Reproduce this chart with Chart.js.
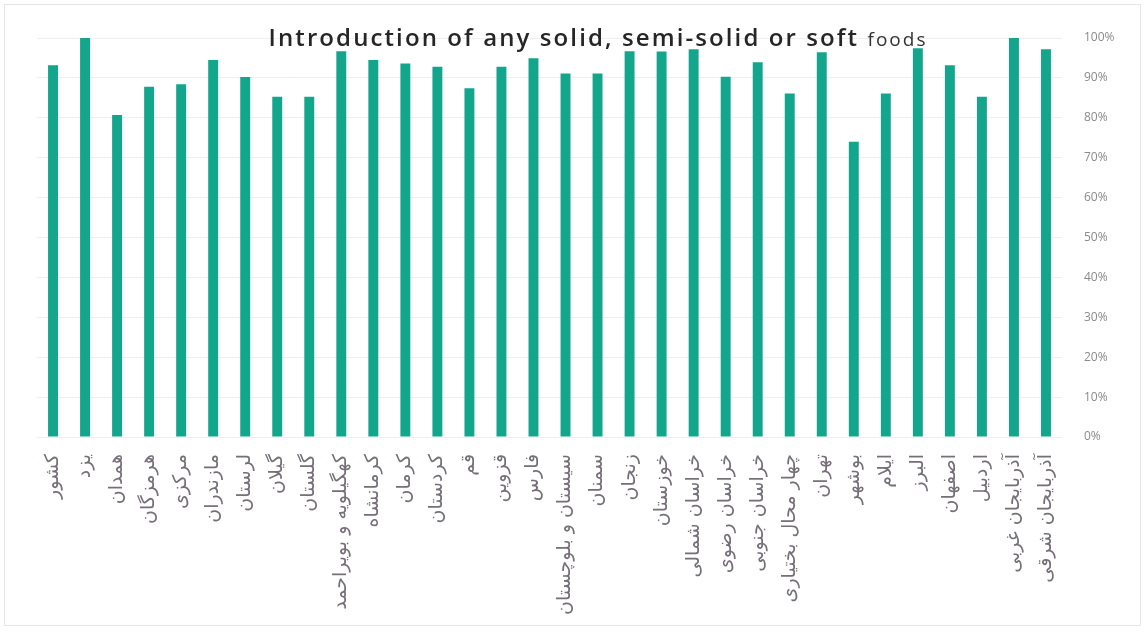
<!DOCTYPE html>
<html>
<head>
<meta charset="utf-8">
<script src="https://cdn.jsdelivr.net/npm/chart.js@4"></script>
<style>
  html, body { margin: 0; padding: 0; background: #fff; }
  #wrap { position: relative; width: 1147px; height: 640px; }
  #wrap::after {
    content: ''; position: absolute; left: 4px; top: 4px; right: 6px; bottom: 14px;
    border: 1px solid #e6e6e6; pointer-events: none;
  }
</style>
</head>
<body>
<div id="wrap"><canvas id="chart" width="1147" height="640"></canvas></div>
<script>
// provinces (plus the national figure first)
const provinces = [
  'کشور', 'یزد', 'همدان', 'هرمزگان', 'مرکزی', 'مازندران', 'لرستان', 'گیلان',
  'گلستان', 'کهگیلویه و بویراحمد', 'کرمانشاه', 'کرمان', 'کردستان', 'قم', 'قزوین', 'فارس',
  'سیستان و بلوچستان', 'سمنان', 'زنجان', 'خوزستان', 'خراسان شمالی', 'خراسان رضوی', 'خراسان جنوبی', 'چهار محال بختیاری',
  'تهران', 'بوشهر', 'ایلام', 'البرز', 'اصفهان', 'اردبیل', 'آذربایجان غربی', 'آذربایجان شرقی'
];

// share of children introduced to solid / semi-solid / soft foods (%)
const introducedPct = [
  93.2, 100, 80.7, 87.8, 88.4, 94.5, 90.2, 85.3,
  85.3, 96.7, 94.5, 93.6, 92.8, 87.4, 92.8, 94.9,
  91.1, 91.1, 96.7, 96.6, 97.2, 90.3, 93.9, 86.1,
  96.4, 74.0, 86.1, 97.4, 93.2, 85.3, 100, 97.2
];

const yTicks = [0, 10, 20, 30, 40, 50, 60, 70, 80, 90, 100];

const titleMain = 'Introduction of any solid, semi-solid or soft';
const titleTail = 'foods';

// title sits inside the plot, above the bars
const titlePlugin = {
  id: 'splitTitle',
  afterDraw(chart) {
    const ctx = chart.ctx;
    ctx.save();
    ctx.textBaseline = 'alphabetic';
    ctx.fillStyle = '#262626';
    ctx.letterSpacing = '2.1px';
    ctx.font = '600 24px "Open Sans"';
    const w1 = ctx.measureText(titleMain + ' ').width;
    ctx.letterSpacing = '2px';
    ctx.font = '19px "Open Sans"';
    const w2 = ctx.measureText(titleTail).width;
    const x0 = 598 - (w1 + w2) / 2;
    ctx.letterSpacing = '2.1px';
    ctx.font = '600 24px "Open Sans"';
    ctx.fillText(titleMain, x0, 46);
    ctx.letterSpacing = '2px';
    ctx.font = '19px "Open Sans"';
    ctx.fillStyle = '#333';
    ctx.fillText(titleTail, x0 + w1, 46);
    ctx.restore();
  }
};

new Chart(document.getElementById('chart').getContext('2d'), {
  type: 'bar',
  data: {
    labels: provinces,
    datasets: [{
      data: introducedPct,
      backgroundColor: '#14a68c',
      barPercentage: 0.62,
      categoryPercentage: 0.5,
    }],
  },
  options: {
    responsive: false,
    animation: false,
    layout: { padding: { left: 37, top: 38, right: 0, bottom: 0 } },
    plugins: {
      legend: { display: false },
      tooltip: { enabled: false },
      title: { display: false },
    },
    scales: {
      x: {
        grid: { display: false },
        border: { display: false },
        ticks: {
          autoSkip: false,
          minRotation: 90,
          maxRotation: 90,
          padding: 9,
          color: '#766e78',
          font: { family: '"DejaVu Sans"', size: 19 },
        },
        afterFit: s => { s.height = 203; },
      },
      y: {
        position: 'right',
        min: 0,
        max: 100,
        afterBuildTicks: s => { s.ticks = yTicks.map(v => ({ value: v })); },
        grid: { color: '#eeeeee', drawTicks: false },
        border: { display: false },
        ticks: {
          padding: 22,
          color: '#8a8a8a',
          font: { family: '"Open Sans"', size: 12 },
          callback: v => v + '%',
        },
        afterFit: s => { s.width = 85; },
      },
    },
  },
  plugins: [titlePlugin],
});
</script>
</body>
</html>
